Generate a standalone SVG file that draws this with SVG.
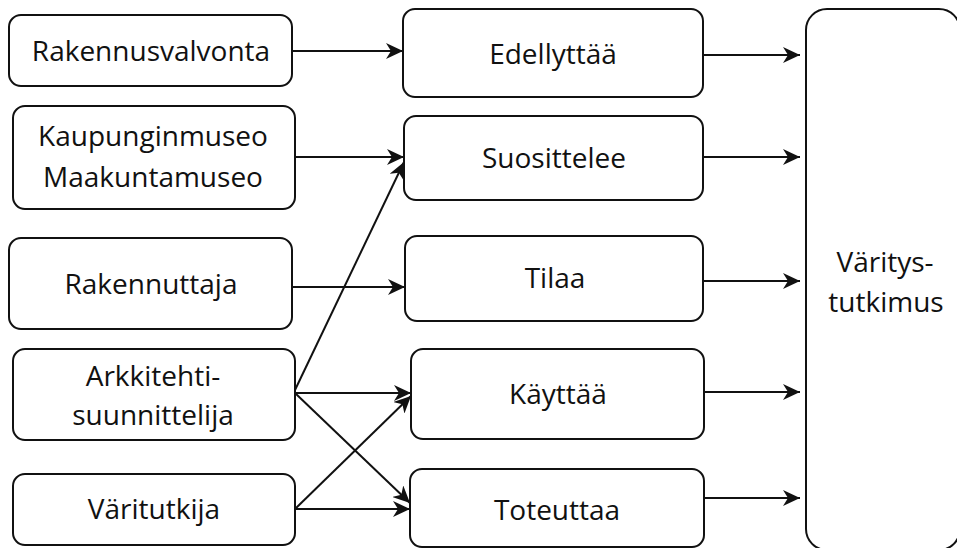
<svg xmlns="http://www.w3.org/2000/svg" width="957" height="548" viewBox="0 0 957 548">
<style>
.box{fill:#fff;stroke:#111;stroke-width:2}
.t{font-family:"Open Sans","Liberation Sans",sans-serif;font-size:28px;fill:#111;text-anchor:middle}
.c{stroke:#111;stroke-width:2;fill:none;marker-end:url(#ah)}
</style>
<defs>
<marker id="ah" markerUnits="userSpaceOnUse" markerWidth="18" markerHeight="16" refX="17" refY="8" orient="auto" viewBox="0 0 18 16">
<path d="M0,0 L17,8 L0,16 L5,8 Z" fill="#111"/>
</marker>
</defs>
<rect width="957" height="548" fill="#fff"/>
<g id="connectors">
<path class="c" d="M292,51 L403,51"/>
<path class="c" d="M295,157 L404,157"/>
<path class="c" d="M292,287 L405,287"/>
<path class="c" d="M295,390 L404,162"/>
<path class="c" d="M295,393 L411,393"/>
<path class="c" d="M295,393 L410,503"/>
<path class="c" d="M295,509 L411,396"/>
<path class="c" d="M295,509 L410,509"/>
<path class="c" d="M703,55 L800,55"/>
<path class="c" d="M703,157 L800,157"/>
<path class="c" d="M703,281 L800,281"/>
<path class="c" d="M704,392 L800,392"/>
<path class="c" d="M704,498 L800,498"/>
</g>
<g id="rakennusvalvonta"><rect class="box" x="9" y="15" width="283" height="71" rx="12"/><text class="t" x="151" y="61">Rakennusvalvonta</text></g>
<g id="museo"><rect class="box" x="13" y="106" width="282" height="103" rx="12"/><text class="t" x="153" y="146">Kaupunginmuseo</text><text class="t" x="153" y="187">Maakuntamuseo</text></g>
<g id="rakennuttaja"><rect class="box" x="9" y="238" width="283" height="91" rx="12"/><text class="t" x="151" y="294">Rakennuttaja</text></g>
<g id="arkkitehti"><rect class="box" x="13" y="349" width="282" height="91" rx="12"/><text class="t" x="153" y="386">Arkkitehti-</text><text class="t" x="153" y="425">suunnittelija</text></g>
<g id="varitutkija"><rect class="box" x="13" y="474" width="282" height="71" rx="12"/><text class="t" x="154" y="519">Väritutkija</text></g>
<g id="edellyttaa"><rect class="box" x="403" y="9" width="300" height="88" rx="12"/><text class="t" x="553" y="64">Edellyttää</text></g>
<g id="suosittelee"><rect class="box" x="404" y="116" width="299" height="84" rx="12"/><text class="t" x="554" y="168">Suosittelee</text></g>
<g id="tilaa"><rect class="box" x="405" y="236" width="298" height="85" rx="12"/><text class="t" x="555" y="288">Tilaa</text></g>
<g id="kayttaa"><rect class="box" x="411" y="349" width="293" height="90" rx="12"/><text class="t" x="558" y="404">Käyttää</text></g>
<g id="toteuttaa"><rect class="box" x="410" y="469" width="294" height="78" rx="12"/><text class="t" x="557" y="520">Toteuttaa</text></g>
<g id="varitystutkimus"><rect class="box" x="806" y="9" width="154" height="541" rx="21"/><text class="t" x="885" y="272">Väritys-</text><text class="t" x="886" y="312">tutkimus</text></g>
</svg>
